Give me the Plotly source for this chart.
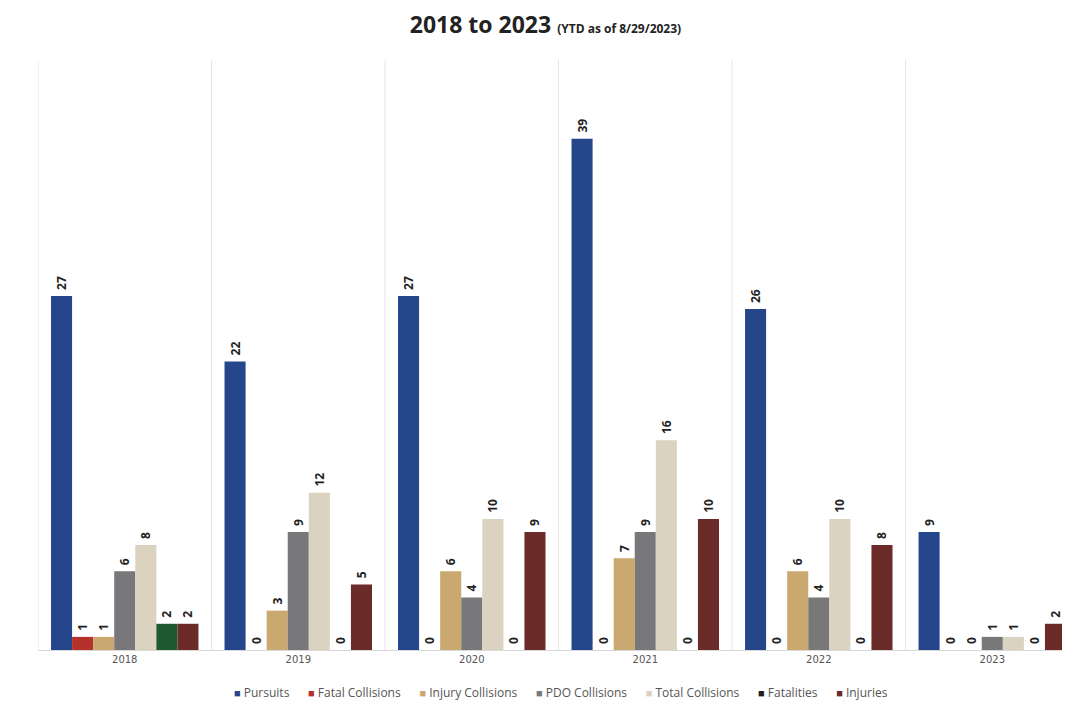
import plotly.graph_objects as go

years = ["2018", "2019", "2020", "2021", "2022", "2023"]
series_names = ["Pursuits", "Fatal Collisions", "Injury Collisions", "PDO Collisions",
                "Total Collisions", "Fatalities", "Injuries"]
pursuits = [27, 22, 27, 39, 26, 9]
fatal_collisions = [1, 0, 0, 0, 0, 0]
injury_collisions = [1, 3, 6, 7, 6, 0]
pdo_collisions = [6, 9, 4, 9, 4, 1]
total_collisions = [8, 12, 10, 16, 10, 1]
fatalities = [2, 0, 0, 0, 0, 0]
injuries = [2, 5, 9, 10, 8, 2]

values = [pursuits, fatal_collisions, injury_collisions, pdo_collisions,
          total_collisions, fatalities, injuries]
colors = ["#26468c", "#b5322c", "#c9a96f", "#78787a", "#dbd2bf", "#1f1f1f", "#6a2b29"]
fatalities_bar_colors = ["#1e5a30", "#1f1f1f", "#1f1f1f", "#1f1f1f", "#1f1f1f", "#1f1f1f"]

fig = go.Figure()
for name, vals, col in zip(series_names, values, colors):
    marker_color = fatalities_bar_colors if name == "Fatalities" else col
    fig.add_trace(go.Bar(
        x=years, y=vals, name=name,
        marker=dict(color=marker_color, line=dict(width=0)),
        text=[" " + str(v) for v in vals], textposition="outside", textangle=-90,
        textfont=dict(family="Open Sans", size=12, color="#222222", weight="bold"),
        cliponaxis=False, showlegend=False,
    ))

# compact legend written as a single line of text
legend_parts = []
for name, col in zip(series_names, colors):
    legend_parts.append(
        f"<span style='color:{col};font-size:11px'>■</span>"
        f"<span style='color:#555555'> {name}</span>"
    )
legend_text = "&nbsp;&nbsp;&nbsp;&nbsp;&nbsp;&nbsp;".join(legend_parts)

shapes = []
for i in range(len(years)):
    shapes.append(dict(type="line", xref="x", yref="paper", x0=i - 0.5, x1=i - 0.5,
                       y0=0, y1=1, line=dict(color="#e6e6e6", width=1), layer="below"))

fig.update_layout(
    width=1070, height=705,
    margin=dict(l=30, r=0, t=52, b=63),
    paper_bgcolor="white", plot_bgcolor="white",
    barmode="group", bargap=0.15, bargroupgap=0,
    showlegend=False,
    title=dict(
        text="<b>2018 to 2023</b> <span style='font-size:12px'><b>(YTD as of 8/29/2023)</b></span>",
        x=0.5023, xanchor="center", xref="container", y=0.976, yanchor="middle",
        font=dict(family="Open Sans", size=23, color="#222222"),
    ),
    xaxis=dict(range=[-0.5, 5.494], showgrid=False, showline=True, linecolor="#d9d9d9",
               ticks="", tickfont=dict(family="DejaVu Sans", size=10, color="#555555"),
               fixedrange=True),
    yaxis=dict(range=[0, 45], showgrid=False, showticklabels=False, zeroline=False,
               showline=False),
    annotations=[dict(
        text=legend_text, xref="paper", yref="paper", x=0.503, y=-0.072,
        xanchor="center", yanchor="middle", showarrow=False,
        font=dict(family="Open Sans", size=12, color="#555555"),
    )],
    shapes=shapes,
)

fig.write_html("out.html")
